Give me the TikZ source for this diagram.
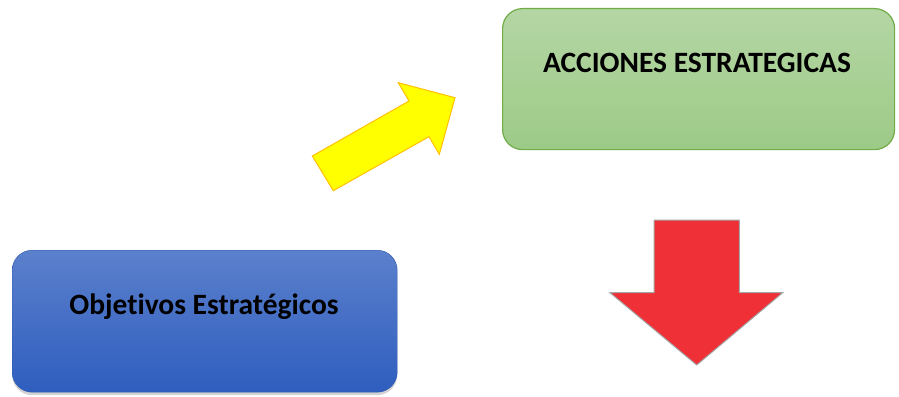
\documentclass[tikz,border=0pt]{standalone}
\usepackage{fontspec}
\setmainfont{Carlito}[Ligatures=NoCommon]
\usetikzlibrary{shadows}
\definecolor{gtop}{HTML}{B4D6A4}
\definecolor{gbot}{HTML}{9DCA87}
\definecolor{gline}{HTML}{70AD47}
\definecolor{btop}{HTML}{5B80CC}
\definecolor{bbot}{HTML}{2F5EBF}
\definecolor{yfill}{HTML}{FFFF00}
\definecolor{yline}{HTML}{FFC000}
\definecolor{rfill}{HTML}{EF3137}
\definecolor{rline}{HTML}{A5A5A5}
\begin{document}
\begin{tikzpicture}[x=1pt,y=-1pt]
\tikzset{
  box/.style={rounded corners=20pt, anchor=north west, inner sep=0pt},
  boxtext/.style={anchor=base, font=\bfseries\fontsize{29.5}{34}\selectfont, text=black, inner sep=0pt},
}
\useasboundingbox (0,0) rectangle (899,396);
% green box
\node[box, draw=gline, line width=1.2pt, top color=gtop, bottom color=gbot,
      minimum width=392pt, minimum height=141pt] (acc) at (502,8) {};
\node[boxtext] (acct) at (697,72) {ACCIONES ESTRATEGICAS};
% blue box
\node[box, top color=btop, bottom color=bbot, draw=bbot!90!black, line width=0.4pt,
      drop shadow={opacity=0.35, shadow xshift=0pt, shadow yshift=-3pt},
      minimum width=385pt, minimum height=142pt] (obj) at (12,250) {};
\node[boxtext] (objt) at (204,314) {Objetivos Estratégicos};
% yellow arrow
\filldraw[fill=yfill, draw=yline, line width=1pt, line join=miter]
  (312.3,156) -- (333.3,190.7) -- (429,136.7) -- (439.3,154.3) -- (455,97.7)
  -- (398.3,82.7) -- (409,101) -- cycle;
% red arrow
\filldraw[fill=rfill, draw=rline, line width=1pt, line join=miter]
  (654,220) -- (739.3,220) -- (739.3,292.7) -- (782.7,292.7) -- (696.7,365)
  -- (610,292.7) -- (654,292.7) -- cycle;
\end{tikzpicture}
\end{document}
